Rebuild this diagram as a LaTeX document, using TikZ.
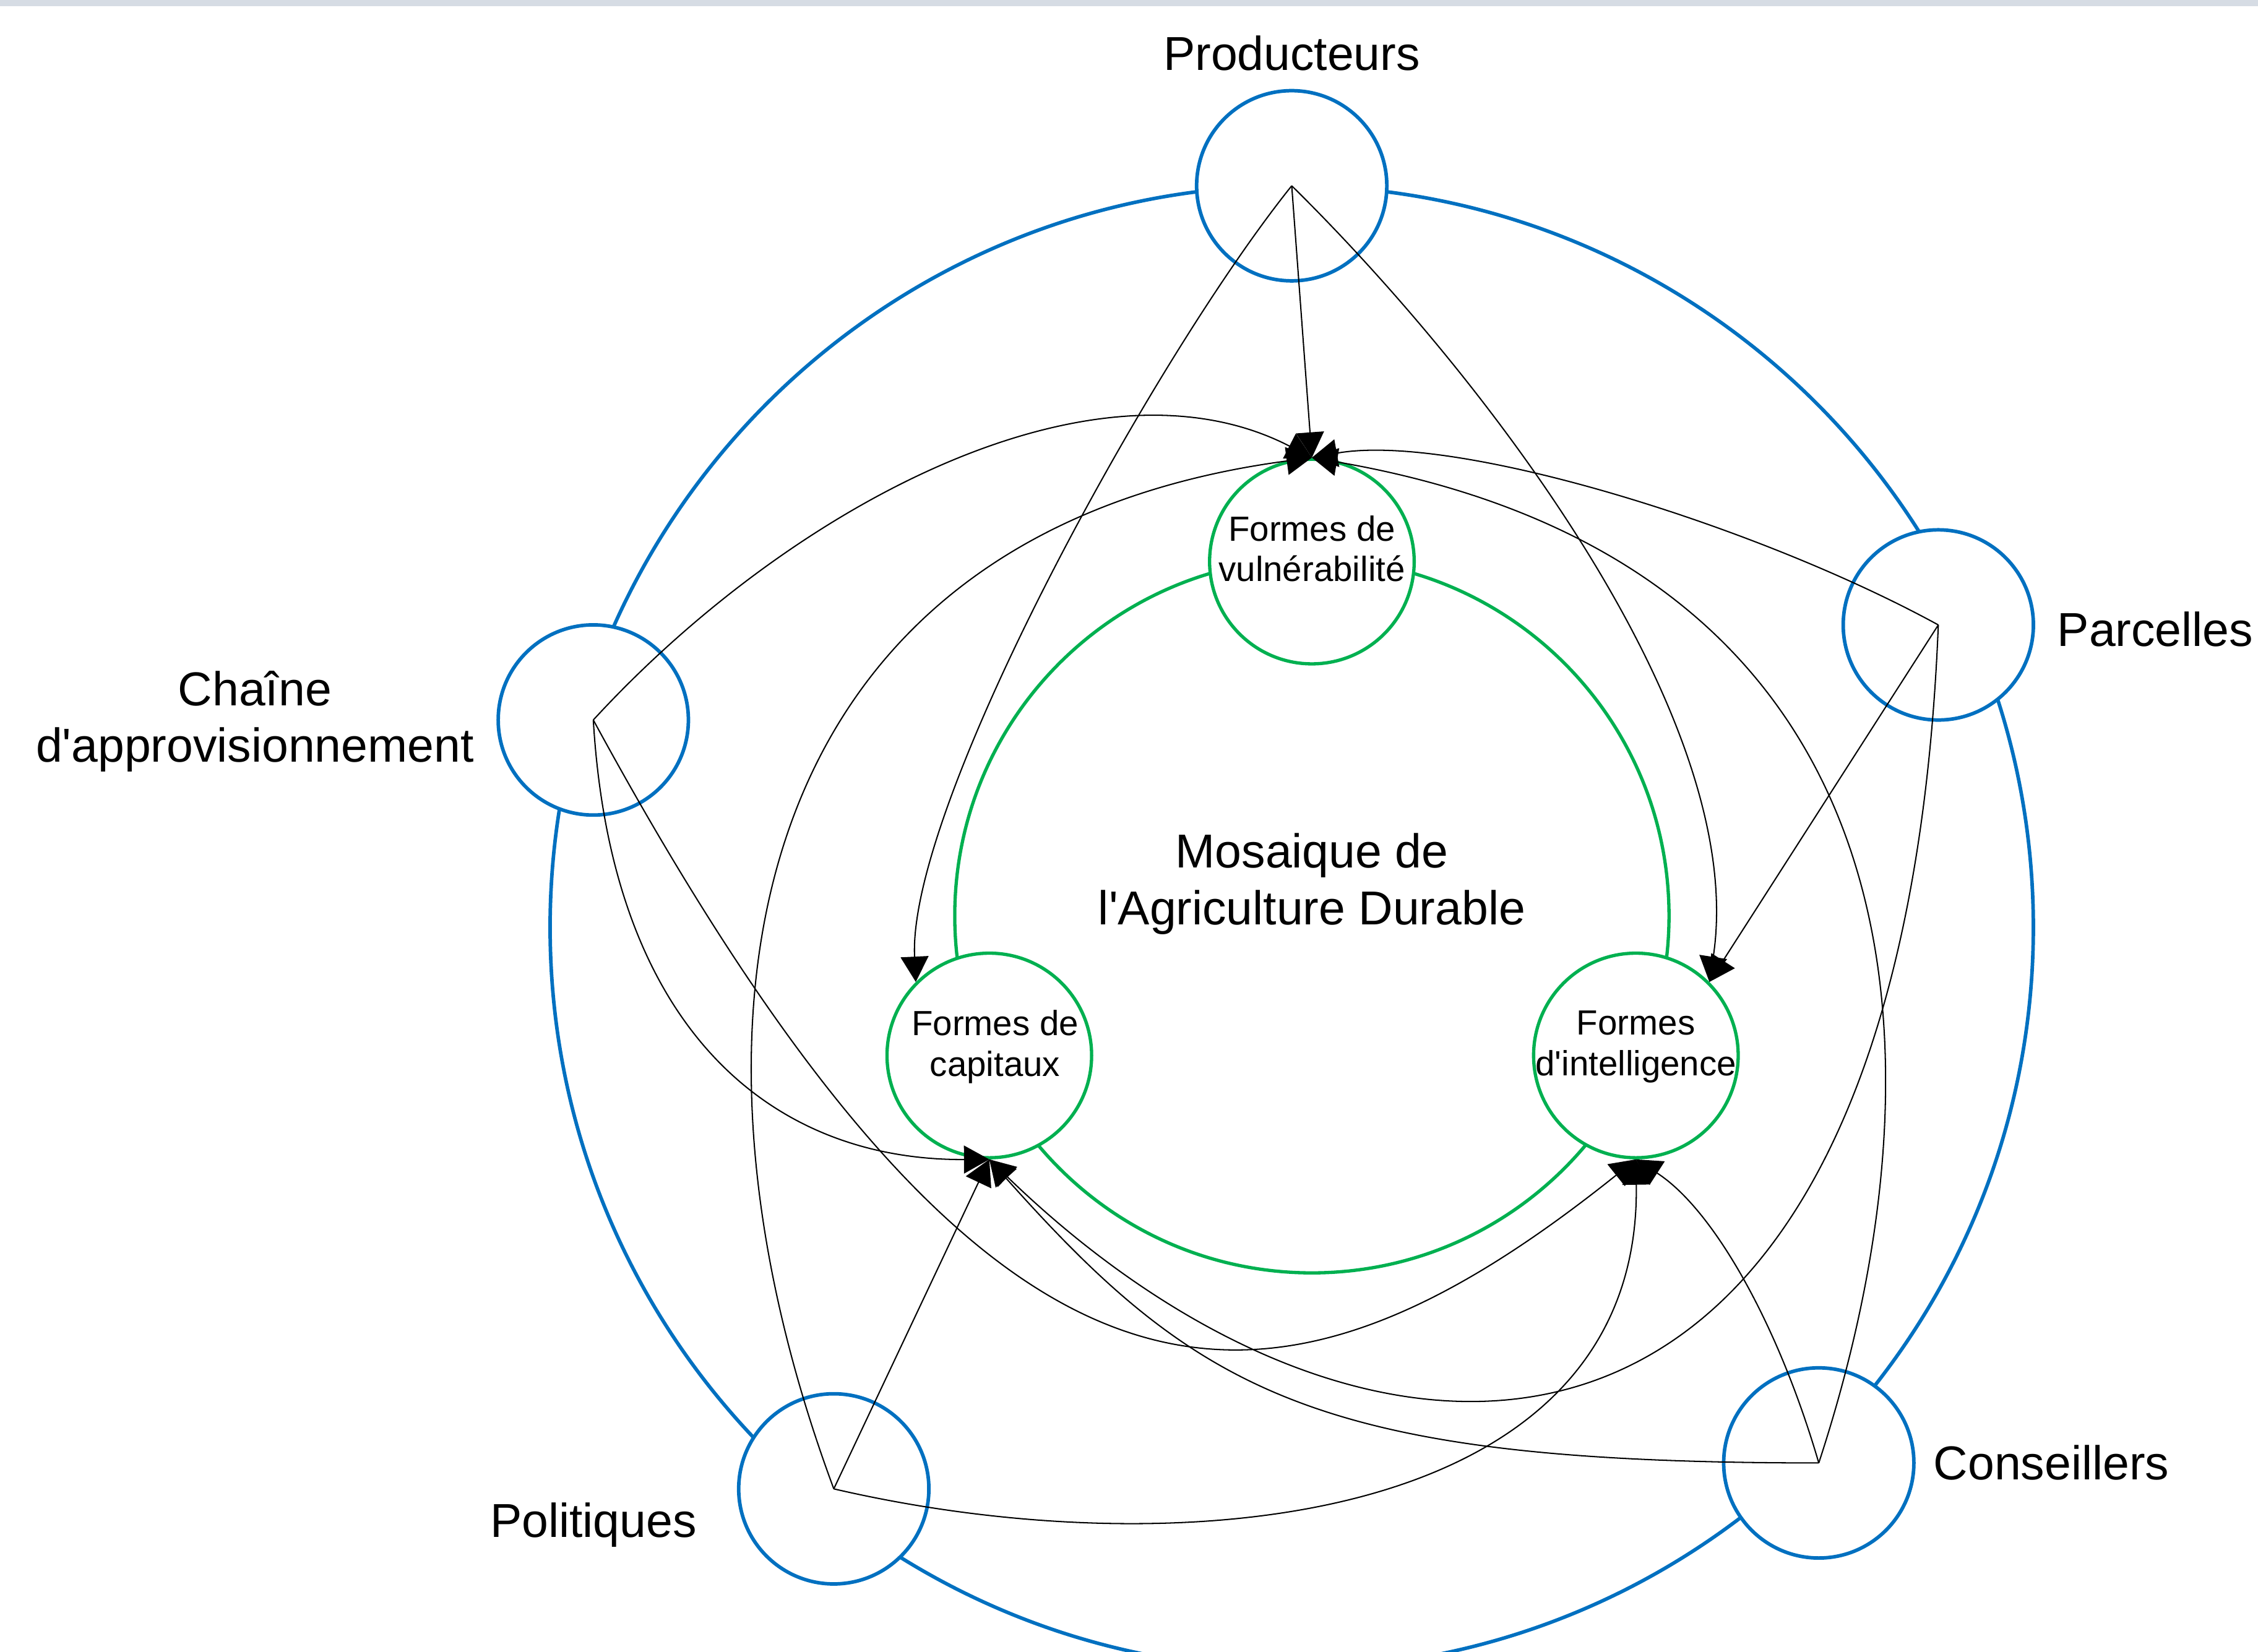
\documentclass[tikz,border=0pt]{standalone}
\usepackage{fontspec}
\newfontfamily\labfont{Liberation Sans}
\usetikzlibrary{arrows.meta}
\definecolor{ringblue}{HTML}{0070C0}
\definecolor{ringgreen}{HTML}{00B050}
\definecolor{topband}{HTML}{D6DCE4}
\tikzset{
  actor/.style={circle, draw=ringblue, line width=0.7pt, fill=white, minimum size=1.32cm, inner sep=0pt},
  form/.style={circle, draw=ringgreen, line width=0.65pt, fill=white, minimum size=1.42cm, inner sep=0pt},
  lbl/.style={font=\labfont\fontsize{9.4}{11.2}\selectfont, align=center, inner sep=0pt},
  inlbl/.style={font=\labfont\fontsize{6.9}{8}\selectfont, align=center, inner sep=0pt},
  link/.style={draw=black, line width=0.25pt, -{Triangle[length=5pt,width=5.5pt]}}
}
\begin{document}
\begin{tikzpicture}[x=0.01cm,y=-0.01cm]
    \useasboundingbox (0,0) rectangle (1568,1147);
    \fill[topband] (0,0) rectangle (1568,4.3);% band along the top
    \draw[ringblue, line width=0.7pt] (897,644) circle[radius=515];% outer ring
    \draw[ringgreen, line width=0.65pt] (911,636) circle[radius=248];% inner ring
    % actors on the outer ring
    \node[actor] (prod) at (897,129) {};
    \node[actor] (parc) at (1346,434) {};
    \node[actor] (chaine) at (412,500) {};
    \node[actor] (poli) at (579,1034) {};
    \node[actor] (cons) at (1263,1016) {};
    % forms on the inner ring
    \node[form] (vuln) at (911,390) {};
    \node[form] (capi) at (687,733) {};
    \node[form] (intel) at (1136,733) {};
    % labels
    \node[lbl] at (897,37) {Producteurs};
    \node[lbl, anchor=west] at (1428,437) {Parcelles};
    \node[lbl] at (177,501) {Chaîne\\d'approvisionnement};
    \node[lbl] at (412,1059) {Politiques};
    \node[lbl, anchor=west] at (1342,1016) {Conseillers};
    \node[lbl] at (911,614) {Mosaique de\\l'Agriculture Durable};
    \node[inlbl] at (911,381) {Formes de\\vulnérabilité};
    \node[inlbl] at (691,727) {Formes de\\capitaux};
    \node[inlbl] at (1136,727) {Formes\\d'intelligence};
    % links from Producteurs
    \draw[link] (prod.center) -- (vuln.north);
    \draw[link] (prod.center) .. controls (800,250) and (630,560) .. (capi.135);
    \draw[link] (prod.center) .. controls (1030,260) and (1215,500) .. (intel.45);
    % links from Parcelles
    \draw[link] (parc.center) .. controls (1220,365) and (1010,300) .. (vuln.north);
    \draw[link] (parc.center) .. controls (1320,1080) and (950,1060) .. (capi.south);
    \draw[link] (parc.center) -- (intel.45);
    % links from the supply chain
    \draw[link] (chaine.center) .. controls (550,350) and (760,240) .. (vuln.north);
    \draw[link] (chaine.center) .. controls (425,720) and (540,806) .. (capi.south);
    \draw[link] (chaine.center) .. controls (689,1010) and (875,1014) .. (intel.south);
    % links from Politiques
    \draw[link] (poli.center) .. controls (455,700) and (520,370) .. (vuln.north);
    \draw[link] (poli.center) -- (capi.south);
    \draw[link] (poli.center) .. controls (820,1090) and (1140,1060) .. (intel.south);
    % links from Conseillers
    \draw[link] (cons.center) .. controls (1360,720) and (1330,390) .. (vuln.north);
    \draw[link] (cons.center) .. controls (917,1016) and (833,969) .. (capi.south);
    \draw[link] (cons.center) .. controls (1235,920) and (1190,840) .. (intel.south);
\end{tikzpicture}
\end{document}
